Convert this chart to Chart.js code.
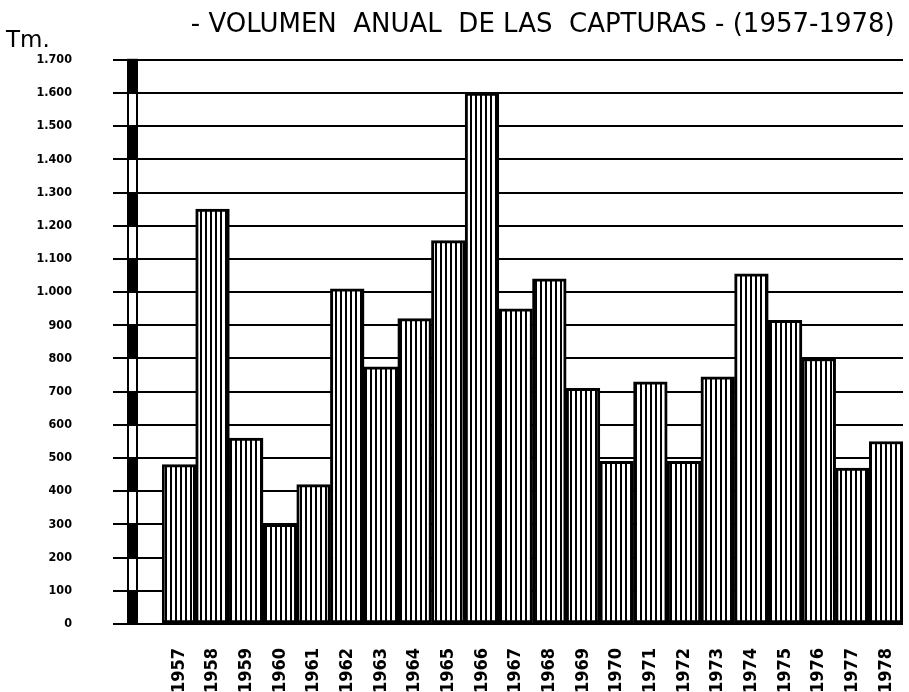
<!DOCTYPE html>
<html>
<head>
<meta charset="utf-8">
<title>Volumen anual de las capturas 1957-1978</title>
<script src="https://cdn.jsdelivr.net/npm/chart.js@4/dist/chart.umd.min.js"></script>
<style>
  html, body { margin: 0; padding: 0; background: #fff; }
  #chart { display: block; }
</style>
</head>
<body>
<canvas id="chart" width="909" height="692"></canvas>
<script>
// ==========================================
// Data
// ==========================================
const years = ['1957', '1958', '1959', '1960', '1961', '1962', '1963', '1964', '1965', '1966', '1967',
               '1968', '1969', '1970', '1971', '1972', '1973', '1974', '1975', '1976', '1977', '1978'];
const capturas = [480, 1250, 560, 300, 420, 1010, 775, 920, 1155, 1600, 950,
                  1040, 710, 490, 730, 490, 745, 1055, 915, 800, 470, 550];
const yMax = 1700;
const yStep = 100;

const titleText = '- VOLUMEN  ANUAL  DE LAS  CAPTURAS - (1957-1978) ';
const unitText = 'Tm.';

// ==========================================
// Helpers
// ==========================================
function hatchPattern() {
    const c = document.createElement('canvas');
    c.width = 5;
    c.height = 4;
    const g = c.getContext('2d');
    g.fillStyle = '#fff';
    g.fillRect(0, 0, 5, 4);
    g.fillStyle = '#000';
    g.fillRect(0, 0, 2, 4);
    return g.createPattern(c, 'repeat');
}

// 1700 -> "1.700"
function formatTm(value) {
    if (value >= 1000) {
        const rest = String(value % 1000).padStart(3, '0');
        return Math.floor(value / 1000) + '.' + rest;
    }
    return String(value);
}

// thick black/white scale bar on the left of the plot
const scaleBar = {
    id: 'scaleBar',
    afterDatasetsDraw(chart) {
        const ctx = chart.ctx;
        const y = chart.scales.y;
        const x0 = chart.chartArea.left - 34;
        const w = 9;
        ctx.save();
        ctx.fillStyle = '#000';
        for (let v = 0; v < yMax; v += yStep) {
            if ((v / yStep) % 2 === 0) {
                const top = y.getPixelForValue(v + yStep);
                const bottom = y.getPixelForValue(v);
                ctx.fillRect(x0, top, w, bottom - top);
            }
        }
        ctx.strokeStyle = '#000';
        ctx.lineWidth = 2;
        const t = y.getPixelForValue(yMax);
        const b = y.getPixelForValue(0);
        ctx.strokeRect(x0, t, w, b - t);
        ctx.restore();
    }
};

// ==========================================
// Chart
// ==========================================
const condensed = "'DejaVu Sans Condensed', 'DejaVu Sans', sans-serif";

new Chart(document.getElementById('chart'), {
    type: 'bar',
    data: {
        labels: years,
        datasets: [{
            data: capturas,
            backgroundColor: hatchPattern(),
            borderColor: '#000',
            borderWidth: 3,
            borderSkipped: false,
            categoryPercentage: 1.0,
            barPercentage: 1.0
        }]
    },
    options: {
        responsive: false,
        animation: false,
        devicePixelRatio: 1,
        layout: {
            padding: { left: 6, right: 6, top: 0, bottom: 0 }
        },
        plugins: {
            legend: { display: false },
            tooltip: { enabled: false },
            title: {
                display: true,
                text: titleText,
                fullSize: false,
                align: 'end',
                color: '#000',
                font: { family: 'DejaVu Sans', size: 26, weight: 'normal' },
                padding: { top: 10, bottom: 0 }
            },
            subtitle: {
                display: true,
                text: unitText,
                align: 'start',
                color: '#000',
                font: { family: 'DejaVu Sans', size: 23, weight: 'normal' },
                padding: { top: -14, bottom: 5 }
            }
        },
        scales: {
            x: {
                grid: { display: false, drawTicks: false },
                border: { display: false },
                ticks: {
                    autoSkip: false,
                    minRotation: 90,
                    maxRotation: 90,
                    padding: 24,
                    color: '#000',
                    font: { family: condensed, size: 18, weight: 'bold' }
                },
                afterFit(scale) {
                    scale.height = 68;
                    scale.paddingLeft = 0;
                    scale.paddingRight = 0;
                }
            },
            y: {
                min: 0,
                max: yMax,
                border: { display: false },
                grid: {
                    color: '#000',
                    lineWidth: 2,
                    drawTicks: true,
                    tickLength: 49
                },
                ticks: {
                    stepSize: yStep,
                    padding: 41,
                    color: '#000',
                    font: { family: condensed, size: 12.5, weight: 'bold' },
                    callback: function(value) { return formatTm(value); }
                },
                afterFit(scale) { scale.width = 156; }
            }
        }
    },
    plugins: [scaleBar]
});
</script>
</body>
</html>
